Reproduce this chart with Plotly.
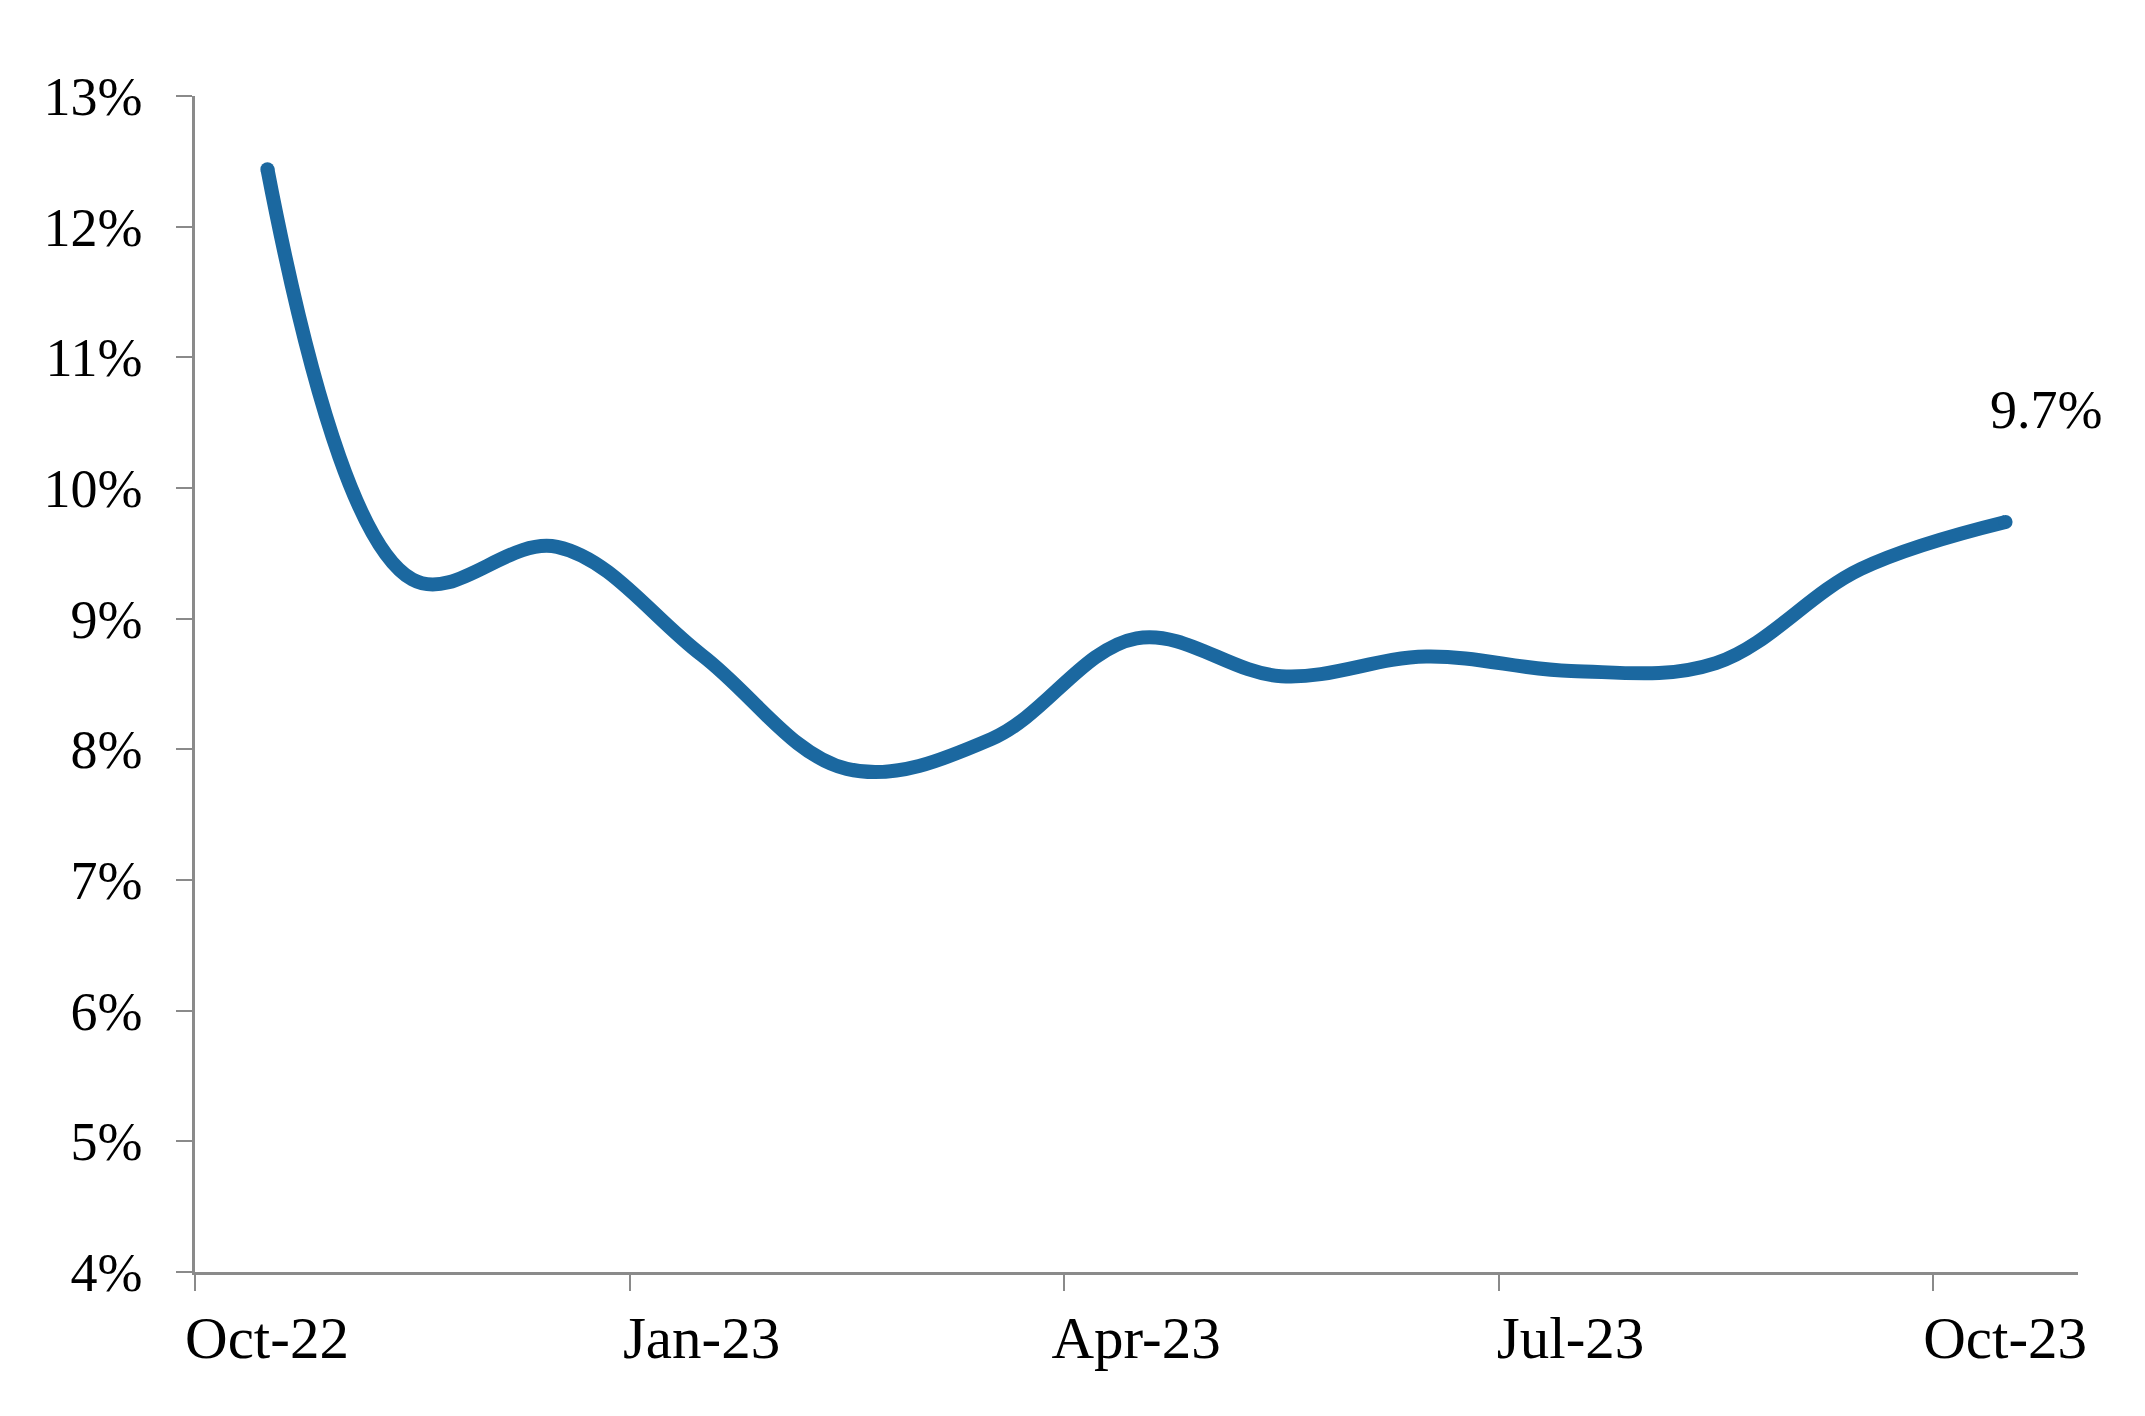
import plotly.graph_objects as go

# Monthly values (%), Oct-22 .. Oct-23
months = ["Oct-22", "Nov-22", "Dec-22", "Jan-23", "Feb-23", "Mar-23", "Apr-23",
          "May-23", "Jun-23", "Jul-23", "Aug-23", "Sep-23", "Oct-23"]
values = [12.44, 9.30, 9.55, 8.72, 7.85, 8.08, 8.85, 8.56, 8.71, 8.60, 8.66, 9.38, 9.74]

# Category axis: month i occupies [i, i+1], point at its centre
month_index = list(range(len(months)))
x_positions = [i + 0.5 for i in month_index]

tick_positions = [0, 3, 6, 9, 12]
tick_labels = ["Oct-22", "Jan-23", "Apr-23", "Jul-23", "Oct-23"]

y_ticks = list(range(4, 14))
last_label = "9.7%"

FONT = "Georgia, 'Liberation Serif', 'DejaVu Serif', serif"
AXIS_GRAY = "#8a8a8a"
LINE_BLUE = "#1b68a0"
LINE_W = 14

# round end caps: markers only on the first and last points
cap_sizes = [LINE_W if i in (0, len(values) - 1) else 0 for i in month_index]

fig = go.Figure()
fig.add_trace(go.Scatter(
    x=x_positions, y=values, mode="lines+markers",
    line=dict(color=LINE_BLUE, width=LINE_W, shape="spline", smoothing=1.05),
    marker=dict(color=LINE_BLUE, size=cap_sizes, opacity=1, line=dict(width=0)),
    hoverinfo="skip", showlegend=False,
))

fig.add_annotation(
    x=x_positions[-1], y=values[-1], text=last_label, showarrow=False,
    xanchor="center", yanchor="bottom", xshift=40, yshift=80,
    font=dict(family=FONT, size=54, color="#000000"),
)

fig.update_layout(
    width=2137, height=1408,
    margin=dict(l=187, r=67, t=88, b=144),
    paper_bgcolor="white", plot_bgcolor="white",
    font=dict(family=FONT, size=54, color="#000000"),
    showlegend=False,
)

fig.update_xaxes(
    range=[0, len(months)],
    tickmode="array", tickvals=tick_positions, ticktext=tick_labels,
    ticks="outside", ticklen=16, tickwidth=2, tickcolor=AXIS_GRAY,
    ticklabelshift=72, ticklabelstandoff=-4,
    showline=True, linecolor=AXIS_GRAY, linewidth=2.5,
    showgrid=False, zeroline=False,
    tickfont=dict(family=FONT, size=59, color="#000000"),
)
fig.update_yaxes(
    range=[4, 13],
    tickmode="array", tickvals=y_ticks, ticktext=[f"{v}%" for v in y_ticks],
    ticks="outside", ticklen=16, tickwidth=2, tickcolor=AXIS_GRAY,
    ticklabelstandoff=23,
    showline=True, linecolor=AXIS_GRAY, linewidth=2.5,
    showgrid=False, zeroline=False,
    tickfont=dict(family=FONT, size=54, color="#000000"),
)

fig.write_html("out.html")
